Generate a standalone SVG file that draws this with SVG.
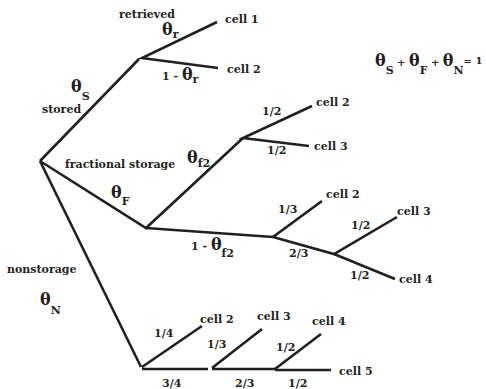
<svg xmlns="http://www.w3.org/2000/svg" width="486" height="389" viewBox="0 0 486 389">
<style>
text{font-family:"DejaVu Serif","Liberation Serif",serif;font-weight:bold;fill:#231f20}
.t{font-size:11px}
.g{font-size:16px}
.s{font-size:11px}
.e{font-size:10px}
#connectors path{fill:none;stroke:#231f20;stroke-width:2.6;stroke-linecap:butt;stroke-linejoin:miter}
</style>
<rect width="486" height="389" fill="#fff"/>
<g id="connectors">
<path d="M40,161 L139,59"/>
<path d="M217,22 L142,58 L218,68"/>
<path d="M40,161 L146,228 L243,138"/>
<path d="M312,106 L243,138 L309,146"/>
<path d="M146,228 Q200,232 273,237"/>
<path d="M322,201 L273,237 L334,254 L397,217"/>
<path d="M334,254 L395,279"/>
<path d="M40,161 L141,367"/>
<path d="M202,326 L142,367 M142,369 L208,369"/>
<path d="M262,329 L212,368 M212,369 L275,369"/>
<path d="M321,334 L275,369 M275,370 L331,370"/>
</g>
<g id="stored">
<text class="t" x="119" y="18">retrieved</text>
<text class="g" x="162" y="35">θ<tspan class="s" dy="3">r</tspan></text>
<text class="t" x="162" y="80">1 - <tspan class="g">θ</tspan><tspan class="s" dy="3">r</tspan></text>
<text class="g" x="71" y="92">θ<tspan class="s" dy="8">S</tspan></text>
<text class="t" x="42" y="113">stored</text>
<text class="t" x="225" y="23">cell 1</text>
<text class="t" x="227" y="73">cell 2</text>
</g>
<g id="fractional">
<text class="t" x="65" y="168">fractional storage</text>
<text class="g" x="187" y="163">θ<tspan class="s" dy="4">f2</tspan></text>
<text class="g" x="111" y="198">θ<tspan class="s" dy="7">F</tspan></text>
<text class="t" x="262" y="115">1/2</text>
<text class="t" x="316" y="106">cell 2</text>
<text class="t" x="267" y="154">1/2</text>
<text class="t" x="314" y="150">cell 3</text>
<text class="t" x="191" y="250">1 - <tspan class="g">θ</tspan><tspan class="s" dy="7">f2</tspan></text>
<text class="t" x="278" y="213">1/3</text>
<text class="t" x="326" y="198">cell 2</text>
<text class="t" x="289" y="257">2/3</text>
<text class="t" x="351" y="229">1/2</text>
<text class="t" x="397" y="215">cell 3</text>
<text class="t" x="350" y="279">1/2</text>
<text class="t" x="399" y="283">cell 4</text>
</g>
<g id="nonstorage">
<text class="t" x="7" y="273">nonstorage</text>
<text class="g" x="40" y="305">θ<tspan class="s" dy="9">N</tspan></text>
<text class="t" x="154" y="337">1/4</text>
<text class="t" x="200" y="323">cell 2</text>
<text class="t" x="162" y="387">3/4</text>
<text class="t" x="207" y="348">1/3</text>
<text class="t" x="257" y="320">cell 3</text>
<text class="t" x="235" y="387">2/3</text>
<text class="t" x="276" y="351">1/2</text>
<text class="t" x="312" y="325">cell 4</text>
<text class="t" x="288" y="387">1/2</text>
<text class="t" x="339" y="375">cell 5</text>
</g>
<g id="equation">
<text class="g" x="375" y="66">θ<tspan class="s" dy="8">S</tspan><tspan class="e" dy="-8"> + </tspan>θ<tspan class="s" dy="8">F</tspan><tspan class="e" dy="-8"> + </tspan>θ<tspan class="s" dy="8">N</tspan><tspan class="e" dy="-10">= 1</tspan></text>
</g>
</svg>
